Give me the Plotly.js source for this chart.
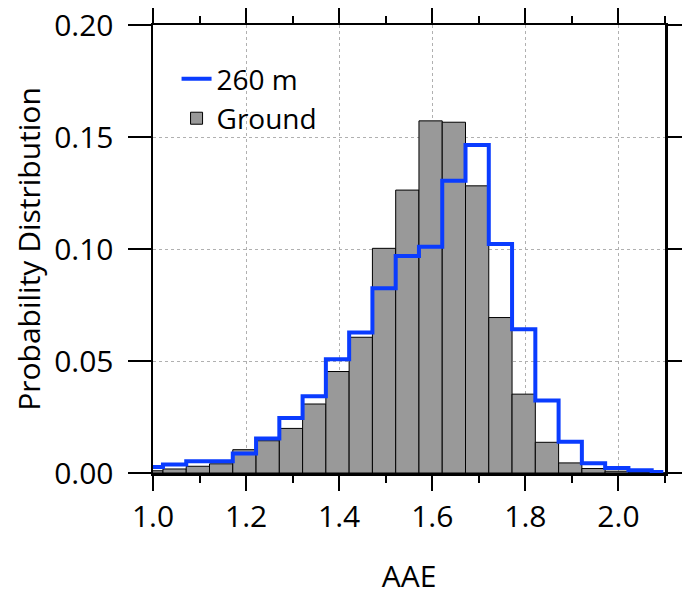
<!DOCTYPE html>
<html>
<head>
<meta charset="utf-8">
<script src="https://cdn.plot.ly/plotly-3.0.1.min.js"></script>
<style>html,body{margin:0;padding:0;background:#fff;}#chart{width:682px;height:596px;}</style>
</head>
<body>
<div id="chart"></div>
<script>
// Bin centres (bin width 0.05)
var binCenters = [0.9964, 1.0464, 1.0964, 1.1464, 1.1964, 1.2464, 1.2964, 1.3464, 1.3964, 1.4464, 1.4964, 1.5464, 1.5964, 1.6464, 1.6964, 1.7464, 1.7964, 1.8464, 1.8964, 1.9464, 1.9964, 2.0464, 2.0964];
// Ground probability distribution (grey bars)
var groundValues = [0.0010, 0.0018, 0.0030, 0.0041, 0.0104, 0.0144, 0.0199, 0.0308, 0.0453, 0.0606, 0.1003, 0.1263, 0.1572, 0.1566, 0.1282, 0.0694, 0.0352, 0.0137, 0.0045, 0.0020, 0.0008, 0.0003, 0.0001];
// 260 m probability distribution (blue steps)
var m260Values = [0.0027, 0.0038, 0.0052, 0.0053, 0.0087, 0.0154, 0.0245, 0.0343, 0.0508, 0.0627, 0.0825, 0.0969, 0.1010, 0.1305, 0.1464, 0.1022, 0.0642, 0.0324, 0.0140, 0.0043, 0.0022, 0.0012, 0.0005];
var binWidth = 0.05;
var xTickVals = [1.0, 1.2, 1.4, 1.6, 1.8, 2.0];
var xTickText = ['1.0', '1.2', '1.4', '1.6', '1.8', '2.0'];
var yTickVals = [0.00, 0.05, 0.10, 0.15, 0.20];
var yTickText = ['0.00', '0.05', '0.10', '0.15', '0.20'];

var FONT = 'Open Sans, Noto Sans, sans-serif';
var FS = 30;

var traces = [
  {
    type: 'bar', name: 'Ground', x: binCenters, y: groundValues, width: binWidth,
    marker: {color: '#999999', line: {color: '#000000', width: 1}},
    legendrank: 2
  },
  {
    type: 'scatter', mode: 'lines', name: '260 m', x: binCenters, y: m260Values,
    line: {color: '#0a3cff', width: 4, shape: 'hvh'},
    legendrank: 1
  }
];

var layout = {
  width: 682, height: 596,
  margin: {l: 153, r: 17, t: 25, b: 123},
  paper_bgcolor: '#ffffff', plot_bgcolor: '#ffffff',
  font: {family: FONT, size: FS, color: '#000000'},
  showlegend: true,
  bargap: 0,
  legend: {x: 0.046, y: 0.935, xanchor: 'left', yanchor: 'top', bgcolor: 'rgba(0,0,0,0)',
           font: {family: FONT, size: 28, color: '#000'}, tracegroupgap: 0},
  xaxis: {
    range: [1.0, 2.1], tickvals: xTickVals, ticktext: xTickText,
    ticks: 'outside', ticklen: 15, tickwidth: 2, tickcolor: '#000',
    showline: true, linewidth: 2.5, linecolor: '#000', mirror: 'ticks',
    showgrid: true, gridcolor: '#b0b0b0', gridwidth: 1, griddash: 'dot',
    zeroline: false,
    minor: {dtick: 0.1, tick0: 1.0, ticks: 'outside', ticklen: 7, tickwidth: 2, tickcolor: '#000', showgrid: false},
    tickfont: {family: FONT, size: FS, color: '#000'},
    title: {text: 'AAE', font: {family: FONT, size: FS, color: '#000'}, standoff: 33}
  },
  yaxis: {
    range: [0, 0.2], tickvals: yTickVals, ticktext: yTickText,
    ticks: 'outside', ticklen: 23, tickwidth: 2, tickcolor: '#000',
    ticklabelstandoff: 8,
    showline: true, linewidth: 2.5, linecolor: '#000', mirror: 'ticks',
    showgrid: true, gridcolor: '#b0b0b0', gridwidth: 1, griddash: 'dot',
    zeroline: false,
    tickfont: {family: FONT, size: FS, color: '#000'},
    title: {text: 'Probability Distribution', font: {family: FONT, size: FS, color: '#000'}, standoff: 5}
  }
};

Plotly.newPlot('chart', traces, layout, {displayModeBar: false, staticPlot: true});
</script>
</body>
</html>
